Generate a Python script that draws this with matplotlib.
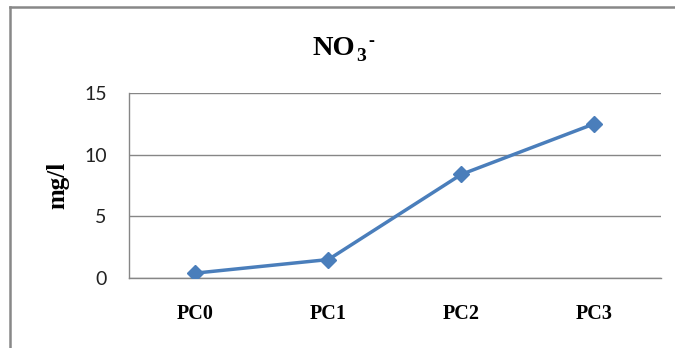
import matplotlib.pyplot as plt
from matplotlib.lines import Line2D

# nitrate concentration per sampling point
categories = ['PC0', 'PC1', 'PC2', 'PC3']
no3_values = [0.4, 1.5, 8.4, 12.5]
y_ticks = [0, 5, 10, 15]

serif = 'Liberation Serif'

fig = plt.figure(figsize=(6.75, 3.48), dpi=100)
ax = fig.add_axes([0.191, 0.201, 0.788, 0.532])

x = range(len(categories))
ax.plot(x, no3_values, color='#4A7EBB', linewidth=2.5, marker='D',
        markersize=8.5, markerfacecolor='#4A7EBB', markeredgecolor='#4A7EBB',
        zorder=3)

ax.set_xlim(-0.5, len(categories) - 0.5)
ax.set_ylim(0, 15)
ax.set_yticks(y_ticks)
ax.set_xticks(list(x))
ax.set_xticklabels(categories, fontfamily=serif, fontweight='bold',
                   fontsize=14.5)
ax.tick_params(axis='x', length=0, pad=19)
ax.tick_params(axis='y', length=0, pad=16, labelsize=14)
for lbl in ax.get_yticklabels():
    lbl.set_fontfamily('Lato')
    lbl.set_color('#222222')

ax.yaxis.grid(True, color='#868686', linewidth=1)
ax.set_axisbelow(True)
for side in ['top', 'right']:
    ax.spines[side].set_visible(False)
for side in ['left', 'bottom']:
    ax.spines[side].set_color('#868686')
    ax.spines[side].set_linewidth(1)

# y axis title
fig.text(0.085, 0.468, 'mg/l', rotation=90, ha='center', va='center',
         fontfamily=serif, fontweight='bold', fontsize=18)

# chart title NO3- built from pieces: base, subscript, superscript
fig.canvas.draw()
renderer = fig.canvas.get_renderer()
base = fig.text(0.4637, 0.842, 'NO', ha='left', va='baseline',
                fontfamily=serif, fontweight='bold', fontsize=20.5)
bb = base.get_window_extent(renderer).transformed(fig.transFigure.inverted())
sub = fig.text(bb.x1 + 0.001, 0.842 - 0.016, '3', ha='left', va='baseline',
               fontfamily=serif, fontweight='bold', fontsize=14)
sb = sub.get_window_extent(renderer).transformed(fig.transFigure.inverted())
fig.text(sb.x1 + 0.003, 0.842 + 0.026, '-', ha='left', va='baseline',
         fontfamily=serif, fontweight='bold', fontsize=13)

# outer frame (left and top edges)
fig.add_artist(Line2D([0.0148, 0.0148], [0.0, 0.98], color='#888888',
                      linewidth=1.8, transform=fig.transFigure))
fig.add_artist(Line2D([0.0148, 1.0], [0.98, 0.98], color='#888888',
                      linewidth=1.8, transform=fig.transFigure))

plt.savefig('out.png', dpi=100)
